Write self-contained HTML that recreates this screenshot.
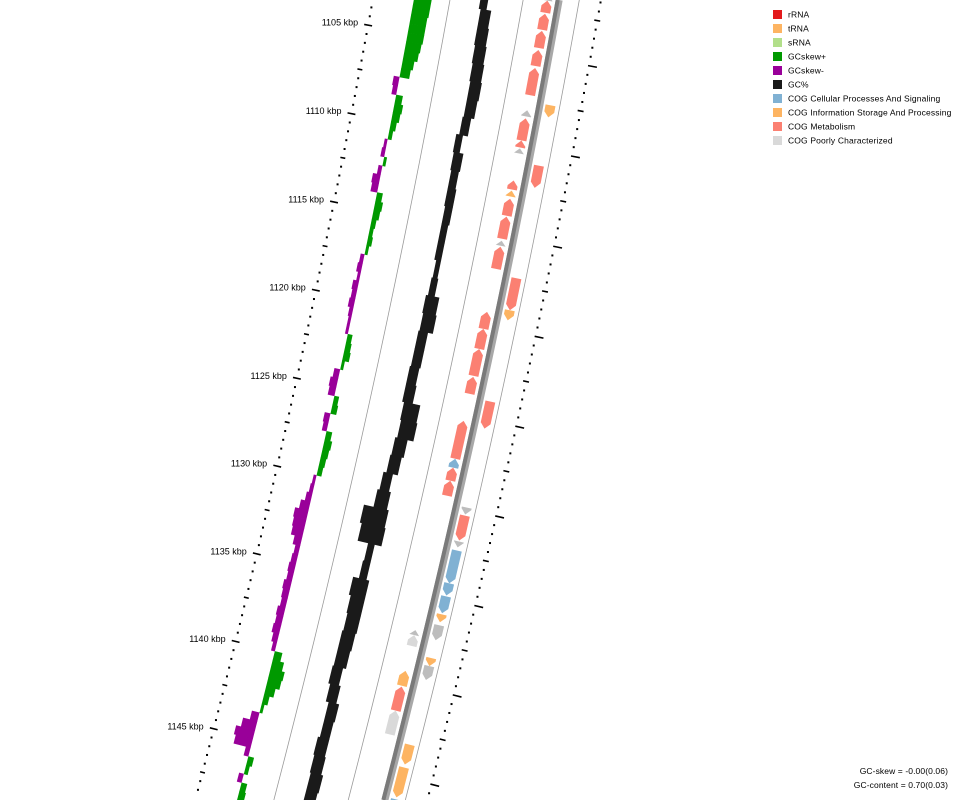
<!DOCTYPE html>
<html>
<head>
<meta charset="utf-8">
<style>
html,body{margin:0;padding:0;background:#fff;width:960px;height:800px;overflow:hidden;}
svg{display:block;overflow:hidden;}
text{font-family:"Liberation Sans","DejaVu Sans",sans-serif;}
</style>
</head>
<body>
<svg id="chart" xmlns="http://www.w3.org/2000/svg" width="960" height="800" viewBox="0 0 960 800">
  <defs><clipPath id="frame"><rect x="0" y="0" width="960" height="800"/></clipPath></defs>
  <rect x="0" y="0" width="960" height="800" fill="#ffffff"/>
  <g id="rings" clip-path="url(#frame)"></g>
  <g id="legend"></g>
  <text x="948" y="774" text-anchor="end" font-size="8.5" letter-spacing="0.1" fill="#000">GC-skew = -0.00(0.06)</text>
  <text x="948" y="788" text-anchor="end" font-size="8.5" letter-spacing="0.1" fill="#000">GC-content = 0.70(0.03)</text>
</svg>
<script>
// ---- data ----
const skewStart = 1103.0;
const skewStep = 0.5;
const skewValues = [0.18,0.18,0.17,0.17,0.17,0.16,0.15,0.12,0.10,-0.06,-0.05,0.07,0.09,0.08,0.06,0.04,-0.03,-0.04,0.03,-0.04,-0.08,-0.07,0.06,0.08,0.07,0.05,0.04,0.05,0.03,-0.04,-0.05,-0.03,-0.06,-0.05,-0.06,-0.04,-0.03,-0.03,0.05,0.06,0.07,0.03,-0.06,-0.08,-0.07,0.05,0.06,-0.06,-0.05,0.06,0.08,0.07,0.06,0.05,-0.03,-0.04,-0.06,-0.10,-0.14,-0.13,-0.12,-0.08,-0.05,-0.06,-0.07,-0.06,-0.08,-0.07,-0.06,-0.08,-0.07,-0.08,-0.06,-0.04,0.08,0.12,0.15,0.14,0.10,0.06,0.03,-0.08,-0.15,-0.20,-0.18,-0.05,0.06,0.04,-0.05,0.06,0.07,0.05,0.05,0.04];

const gcStart = 1102.0;
const gcStep = 1.0;
const gcLow = [-0.07,-0.05,-0.05,-0.04,-0.03,-0.02,-0.02,-0.03,-0.06,-0.05,-0.04,-0.04,-0.03,-0.03,-0.03,-0.01,-0.02,-0.04,-0.03,-0.04,-0.04,-0.05,-0.05,-0.03,-0.02,-0.04,-0.05,-0.08,-0.10,-0.20,-0.18,-0.07,-0.08,-0.14,-0.12,-0.11,-0.12,-0.12,-0.13,-0.11,-0.08,-0.08,-0.10,-0.09,-0.08,-0.08];
const gcHigh = [0.01,0.06,0.07,0.08,0.09,0.10,0.09,0.06,0.01,0.05,0.04,0.05,0.05,0.04,0.04,0.04,0.05,0.10,0.11,0.06,0.06,0.05,0.06,0.14,0.15,0.09,0.07,0.02,0.04,0.06,0.07,0.00,0.00,0.03,0.03,0.03,0.02,0.01,-0.02,0.00,0.03,0.02,0.02,0.03,0.05,0.04];

const geneStart = [1101.58,1101.91,1102.64,1103.59,1104.65,1105.65,1107.50,1108.00,1108.45,1109.68,1110.12,1110.85,1111.91,1112.47,1112.92,1113.92,1115.26,1115.60,1117.11,1118.89,1119.23,1120.18,1121.30,1122.86,1123.98,1125.32,1127.44,1127.94,1128.67,1129.90,1130.35,1131.80,1132.30,1134.14,1134.87,1135.88,1136.49,1137.05,1137.33,1138.33,1138.78,1139.34,1140.23,1141.58,1143.20,1144.48,1146.27];
const geneEnd   = [1101.91,1102.58,1103.53,1104.54,1105.54,1107.16,1108.17,1108.34,1109.68,1110.07,1110.40,1112.08,1112.41,1112.80,1113.87,1115.15,1115.54,1116.83,1118.89,1119.45,1120.18,1121.30,1122.80,1123.81,1125.49,1127.44,1127.94,1128.67,1129.51,1130.29,1131.74,1132.13,1134.14,1134.82,1135.82,1136.32,1137.33,1137.33,1137.94,1138.78,1139.56,1140.18,1141.58,1142.92,1144.31,1146.16,1147.00];
const geneStrand = [-1,-1,-1,-1,-1,-1,1,-1,-1,-1,-1,1,-1,-1,-1,-1,-1,-1,1,1,-1,-1,-1,-1,1,-1,-1,-1,-1,1,1,1,1,1,1,1,1,-1,-1,1,1,-1,-1,-1,1,1,1];
const geneCat = ["unk","met","met","met","met","met","info","unk","met","met","unk","met","met","info","met","met","unk","met","met","info","met","met","met","met","met","met","cell","met","met","unk","met","unk","cell","cell","cell","info","unk","unk","poor","info","unk","info","met","poor","info","info","cell"];

const tickStart = 1100;
const tickEnd = 1150;
const labelKbp = [1105,1110,1115,1120,1125,1130,1135,1140,1145];

const legendLabels = ["rRNA","tRNA","sRNA","GCskew+","GCskew-","GC%","COG Cellular Processes And Signaling","COG Information Storage And Processing","COG Metabolism","COG Poorly Characterized"];
const legendColors = ["#e31a1c","#fdb462","#b2df8a","#009900","#990099","#1a1a1a","#80b1d3","#fdb462","#fb8072","#d9d9d9"];

// ---- geometry ----
const NS = "http://www.w3.org/2000/svg";
const CX = -10085.1, CY = -1899.8, R0 = 10812;
const catColor = {met:"#fb8072", info:"#fdb462", cell:"#80b1d3", poor:"#d9d9d9", unk:"#bdbdbd"};
const R_LEFT = -183, R_SKEW = -142.6, R_GC = -70.3, R_SEP1 = -107, R_SEP2 = -35, R_OUTLINE = 20.3, R_RIGHT = 41.6;
const SCALE = 97.7;
function ang(k){ return (10.434 + (k - 1105) * 0.0971) * Math.PI / 180; }
function P(dr, k){ const r = R0 + dr, a = ang(k); return [CX + r * Math.cos(a), CY + r * Math.sin(a)]; }
function pts(arr){ return arr.map(p => p[0].toFixed(2) + "," + p[1].toFixed(2)).join(" "); }
function mk(tag){ return document.createElementNS(NS, tag); }
function kAtY(dr, y){ const r = R0 + dr; const a = Math.asin((y - CY) / r) * 180 / Math.PI; return 1105 + (a - 10.434) / 0.0971; }
const g = document.getElementById("rings");

function ringLine(dr, color, w){
  const k0 = kAtY(dr, 0), k1 = kAtY(dr, 800);
  const a = [];
  const n = 20;
  for (let i = 0; i <= n; i++) a.push(P(dr, k0 + (k1 - k0) * i / n));
  const l = mk("polyline");
  l.setAttribute("points", pts(a));
  l.setAttribute("fill", "none");
  l.setAttribute("stroke", color);
  l.setAttribute("stroke-width", w);
  g.appendChild(l);
  return l;
}
let ln;
ln = ringLine(R_SEP1, "#9a9a9a", 0.8);


ln = ringLine(R_SEP2, "#9a9a9a", 0.8);


ln = ringLine(R_OUTLINE, "#9a9a9a", 0.8);


ln = ringLine(0.5, "#a8a8a8", 7);


ln = ringLine(-1, "#7a7a7a", 4);



// GC skew
skewValues.forEach((v, i) => {
  const k0 = skewStart + i * skewStep, k1 = k0 + skewStep + 0.02;
  const r1 = R_SKEW + v * SCALE;
  const p = mk("polygon");
  p.setAttribute("points", pts([P(R_SKEW, k0), P(r1, k0), P(r1, k1), P(R_SKEW, k1)]));
  p.setAttribute("fill", v >= 0 ? "#009900" : "#990099");
  
  
  g.appendChild(p);
});

// GC content
gcLow.forEach((lo, i) => {
  const hi = gcHigh[i];
  const k0 = gcStart + i * gcStep, k1 = k0 + gcStep + 0.02;
  const ra = R_GC + lo * SCALE, rb = R_GC + hi * SCALE;
  const p = mk("polygon");
  p.setAttribute("points", pts([P(ra, k0), P(rb, k0), P(rb, k1), P(ra, k1)]));
  p.setAttribute("fill", "#1a1a1a");
  
  
  g.appendChild(p);
});

// genes
geneStart.forEach((s, i) => {
  const e = geneEnd[i], st = geneStrand[i];
  const r1 = st > 0 ? 6 : -16, r2 = st > 0 ? 16 : -6, rm = (r1 + r2) / 2;
  const head = Math.min(0.3, e - s);
  let arr;
  if (st > 0) arr = [P(r1, s), P(r2, s), P(r2, e - head), P(rm, e), P(r1, e - head)];
  else arr = [P(rm, s), P(r2, s + head), P(r2, e), P(r1, e), P(r1, s + head)];
  const p = mk("polygon");
  p.setAttribute("points", pts(arr));
  p.setAttribute("fill", catColor[geneCat[i]]);
  
  
  g.appendChild(p);
});

// ticks
function inFrame(p){ return p[1] > 2 && p[1] < 797; }
for (let k = tickStart; k <= tickEnd + 0.001; k += 0.5) {
  const major = Math.abs(k % 5) < 0.001, medium = !major && Math.abs(k % 2.5) < 0.001;
  if (inFrame(P(R_LEFT, k))) {
    let t;
    if (major || medium) {
      const a = major ? P(R_LEFT - 4, k) : P(R_LEFT - 2.5, k), b = major ? P(R_LEFT + 4, k) : P(R_LEFT + 2.5, k);
      t = mk("line");
      t.setAttribute("x1", a[0]); t.setAttribute("y1", a[1]); t.setAttribute("x2", b[0]); t.setAttribute("y2", b[1]);
      t.setAttribute("stroke", "#000"); t.setAttribute("stroke-width", "1.6");
    } else {
      const c = P(R_LEFT, k);
      t = mk("rect");
      t.setAttribute("x", c[0] - 1); t.setAttribute("y", c[1] - 1); t.setAttribute("width", 2); t.setAttribute("height", 2);
      t.setAttribute("fill", "#000");
    }
    
    
    g.appendChild(t);
  }
  if (inFrame(P(R_RIGHT, k))) {
    let u;
    if (major || medium) {
      const a = major ? P(R_RIGHT - 1, k) : P(R_RIGHT - 3, k), b = major ? P(R_RIGHT + 8, k) : P(R_RIGHT + 3, k);
      u = mk("line");
      u.setAttribute("x1", a[0]); u.setAttribute("y1", a[1]); u.setAttribute("x2", b[0]); u.setAttribute("y2", b[1]);
      u.setAttribute("stroke", "#000"); u.setAttribute("stroke-width", "1.6");
    } else {
      const c = P(R_RIGHT, k);
      u = mk("rect");
      u.setAttribute("x", c[0] - 1); u.setAttribute("y", c[1] - 1); u.setAttribute("width", 2); u.setAttribute("height", 2);
      u.setAttribute("fill", "#000");
    }
    
    
    g.appendChild(u);
  }
}

// labels
labelKbp.forEach(k => {
  const c = P(R_LEFT, k);
  const tx = mk("text");
  tx.setAttribute("x", (c[0] - 10).toFixed(1));
  tx.setAttribute("y", (c[1] + 0.5).toFixed(1));
  tx.setAttribute("text-anchor", "end");
  tx.setAttribute("font-size", "9");
  tx.setAttribute("fill", "#000");
  tx.textContent = k + " kbp";
  
  
  g.appendChild(tx);
});

// legend
const lg = document.getElementById("legend");
legendLabels.forEach((lab, i) => {
  const y = 10 + i * 14;
  const r = mk("rect");
  r.setAttribute("x", 773); r.setAttribute("y", y); r.setAttribute("width", 9); r.setAttribute("height", 9);
  r.setAttribute("fill", legendColors[i]);
  
  
  lg.appendChild(r);
  const t = mk("text");
  t.setAttribute("x", 788); t.setAttribute("y", y + 7.5);
  t.setAttribute("font-size", "8.5");
  t.setAttribute("letter-spacing", "0.15");
  t.setAttribute("fill", "#000");
  t.textContent = lab;
  
  
  lg.appendChild(t);
});
</script>
</body>
</html>
